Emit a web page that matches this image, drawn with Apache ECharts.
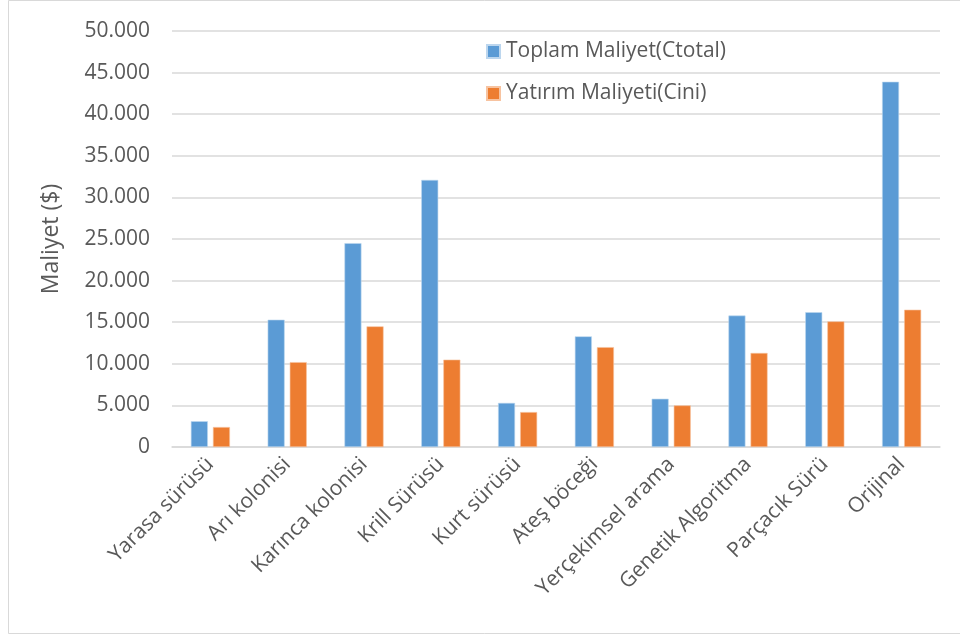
<!DOCTYPE html>
<html>
<head>
<meta charset="utf-8">
<script src="https://cdn.jsdelivr.net/npm/echarts@6/dist/echarts.min.js"></script>
<style>
  html, body { margin: 0; padding: 0; background: #fff; }
  #chart { width: 960px; height: 639px; }
</style>
</head>
<body>
<div id="chart"></div>
<script>
// Algorithms compared
const categories = [
  'Yarasa sürüsü', 'Arı kolonisi', 'Karınca kolonisi', 'Krill Sürüsü', 'Kurt sürüsü',
  'Ateş böceği', 'Yerçekimsel arama', 'Genetik Algoritma', 'Parçacık Sürü', 'Orijinal'
];
// Total cost (Ctotal), $
const totalCost = [3100, 15300, 24500, 32100, 5300, 13300, 5800, 15800, 16200, 43900];
// Investment cost (Cini), $
const investCost = [2400, 10200, 14500, 10500, 4200, 12000, 5000, 11300, 15100, 16500];
const seriesNames = ['Toplam Maliyet(Ctotal)', 'Yatırım Maliyeti(Cini)'];
const yAxisName = 'Maliyet ($)';

const FONT = '"Open Sans", sans-serif';
const TEXT = '#595959';

function fmt(v) {
  return String(v).replace(/\B(?=(\d{3})+(?!\d))/g, '.');
}

const chart = echarts.init(document.getElementById('chart'), null, { renderer: 'canvas' });
chart.setOption({
  animation: false,
  backgroundColor: '#fff',
  textStyle: { fontFamily: FONT },
  graphic: [{
    type: 'rect',
    shape: { x: 8.5, y: 0.5, width: 960, height: 633 },
    style: { fill: 'none', stroke: '#d9d9d9', lineWidth: 1 },
    silent: true,
    z: -1
  }],
  legend: {
    orient: 'vertical',
    left: 481,
    top: 36,
    itemWidth: 13,
    itemHeight: 13,
    itemGap: 21,
    icon: 'rect',
    textStyle: { fontFamily: FONT, fontSize: 21, color: TEXT, padding: [0, 0, 0, 1] },
    data: seriesNames
  },
  grid: { left: 172, right: 20, top: 31, bottom: 192, containLabel: false },
  xAxis: {
    type: 'category',
    data: categories,
    axisLine: { lineStyle: { color: '#d9d9d9', width: 1.5 } },
    axisTick: { show: false },
    axisLabel: {
      rotate: 45,
      interval: 0,
      margin: 14,
      fontFamily: FONT,
      fontSize: 21,
      color: TEXT
    }
  },
  yAxis: {
    type: 'value',
    min: 0,
    max: 50000,
    interval: 5000,
    name: yAxisName,
    nameLocation: 'middle',
    nameGap: 109,
    nameTextStyle: { fontFamily: FONT, fontSize: 23, color: TEXT },
    axisLine: { show: false },
    axisTick: { show: false },
    axisLabel: {
      margin: 22,
      fontFamily: FONT,
      fontSize: 21,
      color: TEXT,
      formatter: fmt
    },
    splitLine: { lineStyle: { color: '#d9d9d9', width: 1.5 } }
  },
  series: [
    {
      name: seriesNames[0],
      type: 'bar',
      data: totalCost,
      barWidth: 17,
      barGap: '30%',
      itemStyle: { color: '#5b9bd5', borderColor: '#bcd6ee', borderWidth: 0.6 }
    },
    {
      name: seriesNames[1],
      type: 'bar',
      data: investCost,
      barWidth: 17,
      itemStyle: { color: '#ed7d31', borderColor: '#f7c3a0', borderWidth: 0.6 }
    }
  ]
});
</script>
</body>
</html>
